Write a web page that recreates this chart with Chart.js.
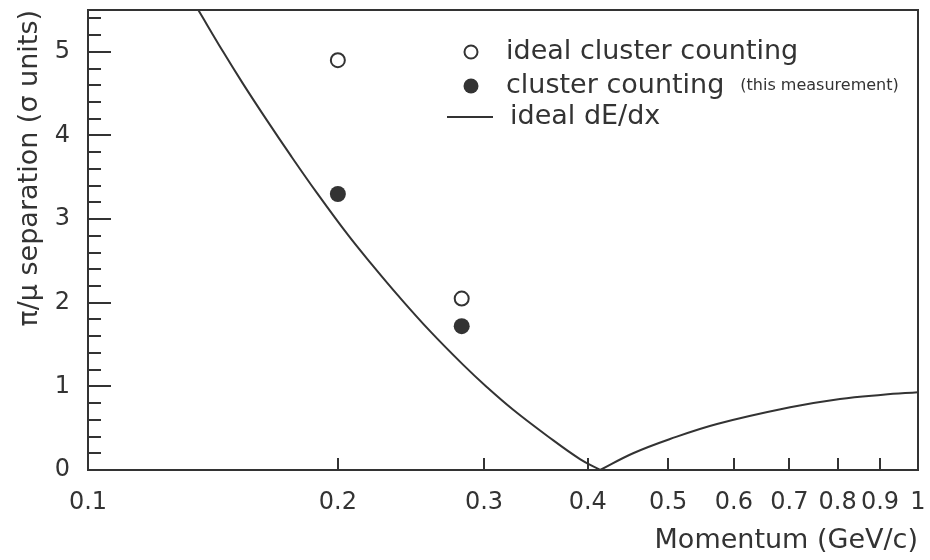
<!DOCTYPE html>
<html>
<head>
<meta charset="utf-8">
<script src="https://cdn.jsdelivr.net/npm/chart.js@4/dist/chart.umd.min.js"></script>
<style>
  html, body { margin: 0; padding: 0; background: #fff; }
  #wrap { width: 930px; height: 560px; }
</style>
</head>
<body>
<div id="wrap"><canvas id="chart" width="930" height="560"></canvas></div>
<script>
// Ideal dE/dx separation curve, falling branch (momentum in GeV/c, separation in sigma)
const dedxMomentumFalling = [0.1358, 0.1455, 0.1537, 0.1643, 0.1752, 0.1888, 0.2057, 0.2205,
                             0.2357, 0.2583, 0.2830, 0.3025, 0.3253, 0.3573, 0.3915, 0.4141];
const dedxSeparationFalling = [5.50, 5.00, 4.62, 4.18, 3.77, 3.31, 2.81, 2.44,
                               2.10, 1.66, 1.26, 0.99, 0.72, 0.41, 0.13, 0.00];

// Rising branch past the crossover
const dedxMomentumRising = [0.4141, 0.4537, 0.5026, 0.5726, 0.7014, 0.8054, 0.9074, 1.0];
const dedxSeparationRising = [0.00, 0.20, 0.37, 0.55, 0.75, 0.85, 0.90, 0.93];

// Cluster counting points
const countingMomentum = [0.2, 0.282];
const idealCounting = [4.90, 2.05];
const measuredCounting = [3.30, 1.72];

// Axis ticks
const xTickValues = [0.1, 0.2, 0.3, 0.4, 0.5, 0.6, 0.7, 0.8, 0.9, 1];
const xTickLabels = ['0.1', '0.2', '0.3', '0.4', '0.5', '0.6', '0.7', '0.8', '0.9', '1'];
const yTickValues = [0, 1, 2, 3, 4, 5];
const yMinorStep = 0.2;

const INK = '#333333';
const FONT = 'DejaVu Sans';

const toPoints = (xs, ys) => xs.map((x, i) => ({ x: x, y: ys[i] }));

// Frame, inward tick marks and the inline legend
const framePlugin = {
  id: 'frameTicksLegend',
  afterDraw(chart) {
    const { ctx, chartArea: a, scales } = chart;
    const xs = scales.x, ys = scales.y;
    ctx.save();
    ctx.strokeStyle = INK;
    ctx.lineWidth = 2;
    ctx.strokeRect(a.left, a.top, a.right - a.left, a.bottom - a.top);

    // y ticks: long at integers, short every 0.2
    const yMax = ys.max;
    for (let i = 0; i * yMinorStep <= yMax + 1e-9; i++) {
      const v = i * yMinorStep;
      const major = Math.abs(v - Math.round(v)) < 1e-6;
      const py = Math.round(ys.getPixelForValue(v));
      if (py <= a.top + 1 || py >= a.bottom - 1) continue;
      ctx.beginPath();
      ctx.moveTo(a.left, py);
      ctx.lineTo(a.left + (major ? 23 : 13), py);
      ctx.stroke();
    }
    // x ticks
    xTickValues.forEach(v => {
      const px = Math.round(xs.getPixelForValue(v));
      if (px <= a.left + 1 || px >= a.right - 1) return;
      ctx.beginPath();
      ctx.moveTo(px, a.bottom);
      ctx.lineTo(px, a.bottom - 12);
      ctx.stroke();
    });

    // legend
    const lx = 471, tx = 506;
    ctx.textBaseline = 'middle';
    ctx.textAlign = 'left';

    ctx.beginPath();
    ctx.arc(lx, 52, 6.5, 0, Math.PI * 2);
    ctx.fillStyle = '#fff';
    ctx.fill();
    ctx.lineWidth = 2;
    ctx.stroke();
    ctx.fillStyle = INK;
    ctx.font = '27px "' + FONT + '"';
    ctx.fillText('ideal cluster counting', tx, 52);

    ctx.beginPath();
    ctx.arc(lx, 86, 7.5, 0, Math.PI * 2);
    ctx.fill();
    ctx.fillText('cluster counting', tx, 86);
    const w = ctx.measureText('cluster counting').width;
    ctx.font = '16px "' + FONT + '"';
    ctx.fillText('(this measurement)', tx + w + 16, 86);

    ctx.beginPath();
    ctx.moveTo(447, 117);
    ctx.lineTo(493, 117);
    ctx.lineWidth = 2;
    ctx.stroke();
    ctx.font = '27px "' + FONT + '"';
    ctx.fillText('ideal dE/dx', tx + 4, 117);
    ctx.restore();
  }
};

const curveStyle = {
  showLine: true,
  borderColor: INK,
  borderWidth: 2,
  pointRadius: 0,
  tension: 0.4,
  fill: false
};

new Chart(document.getElementById('chart'), {
  type: 'scatter',
  data: {
    datasets: [
      Object.assign({ label: 'ideal dE/dx', data: toPoints(dedxMomentumFalling, dedxSeparationFalling) }, curveStyle),
      Object.assign({ label: 'ideal dE/dx (rising)', data: toPoints(dedxMomentumRising, dedxSeparationRising) }, curveStyle),
      {
        label: 'ideal cluster counting',
        data: toPoints(countingMomentum, idealCounting),
        pointRadius: 7,
        pointBackgroundColor: '#fff',
        pointBorderColor: INK,
        pointBorderWidth: 2
      },
      {
        label: 'cluster counting (this measurement)',
        data: toPoints(countingMomentum, measuredCounting),
        pointRadius: 8,
        pointBackgroundColor: INK,
        pointBorderColor: INK,
        pointBorderWidth: 0
      }
    ]
  },
  options: {
    responsive: false,
    animation: false,
    devicePixelRatio: 1,
    layout: { padding: { left: 0, top: 10, right: 12, bottom: 0 } },
    plugins: {
      legend: { display: false },
      tooltip: { enabled: false }
    },
    scales: {
      x: {
        type: 'logarithmic',
        min: 0.1,
        max: 1,
        afterBuildTicks: s => { s.ticks = xTickValues.map(v => ({ value: v })); },
        afterFit: s => { s.height = 90; s.paddingLeft = 0; s.paddingRight = 0; },
        grid: { display: false, drawTicks: false },
        border: { display: false },
        ticks: {
          autoSkip: false,
          maxRotation: 0,
          minRotation: 0,
          padding: 18,
          color: INK,
          font: { family: FONT, size: 24 },
          callback: (v, i) => xTickLabels[i]
        },
        title: {
          display: true,
          text: 'Momentum (GeV/c)',
          align: 'end',
          color: INK,
          font: { family: FONT, size: 27 },
          padding: { top: 0, bottom: 3 }
        }
      },
      y: {
        min: 0,
        max: 5.5,
        afterBuildTicks: s => { s.ticks = yTickValues.map(v => ({ value: v })); },
        afterFit: s => { s.width = 88; s.paddingTop = 0; s.paddingBottom = 0; },
        grid: { display: false, drawTicks: false },
        border: { display: false },
        ticks: {
          padding: 18,
          color: INK,
          font: { family: FONT, size: 24 },
          callback: v => String(v)
        },
        title: {
          display: true,
          text: 'π/μ separation (σ units)',
          align: 'end',
          color: INK,
          font: { family: FONT, size: 27 },
          padding: { top: 14, bottom: 0 }
        }
      }
    }
  },
  plugins: [framePlugin]
});
</script>
</body>
</html>
